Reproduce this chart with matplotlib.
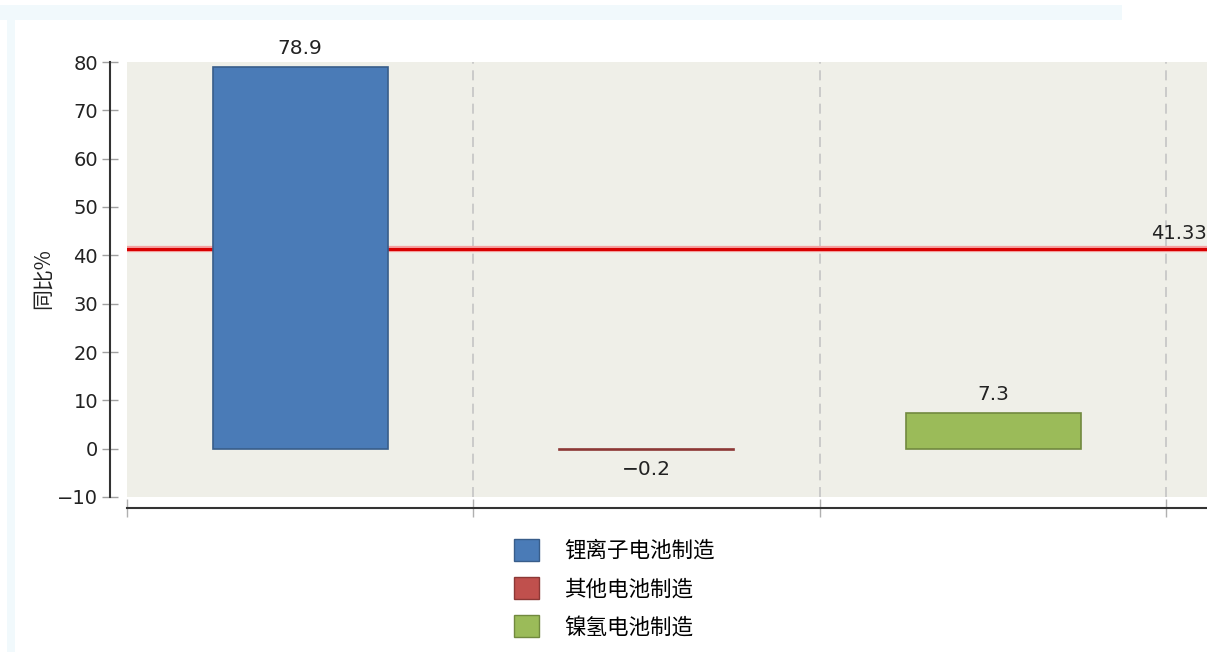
import matplotlib
matplotlib.use("Agg")
import matplotlib.pyplot as plt
from matplotlib.patches import Patch, Rectangle
import numpy as np

categories = ["锂离子电池制造", "其他电池制造", "镍氢电池制造"]
values = [78.9, -0.2, 7.3]
mean_value = 41.33
yticks = [-10, 0, 10, 20, 30, 40, 50, 60, 70, 80]
ylabel = "同比%"

face_colors = ["#4A7BB7", "#C0504D", "#9BBB59"]
edge_colors = ["#385D8A", "#8C3836", "#71893F"]

plt.rcParams['font.family'] = ['Noto Sans CJK SC', 'DejaVu Sans']

W, H = 1207, 652
fig = plt.figure(figsize=(W / 100, H / 100), dpi=100)
fig.patch.set_facecolor("white")
# light blue frame strips
fig.patches.append(Rectangle((0, 1 - 20 / H), 1122 / W, 15 / H, transform=fig.transFigure,
                             facecolor="#F1F9FC", edgecolor="none", zorder=0))
fig.patches.append(Rectangle((7 / W, 0), 8 / W, 1 - 20 / H, transform=fig.transFigure,
                             facecolor="#F1F9FC", edgecolor="none", zorder=0))

ax = fig.add_axes([127 / W, 1 - 497 / H, (W - 127) / W, (497 - 62) / H])
ax.set_facecolor("#EFEFE8")

n = len(categories)
x = np.arange(n) + 0.5
ax.bar(x, values, width=0.505, color=face_colors, edgecolor=edge_colors, linewidth=1.2, zorder=4)

ax.set_xlim(0, n + 0.117)
ax.set_ylim(-10, 80)
ax.set_yticks(yticks)
ax.set_xticks(np.arange(n + 1))
ax.set_xticklabels([])

for b in range(1, n + 1):
    ax.axvline(b, color="#C4C4C4", linewidth=1.2, linestyle=(0, (6, 4)), zorder=1)

# mean line (behind bars)
ax.axhline(mean_value, color="#F4A0A0", linewidth=4.5, zorder=2)
ax.axhline(mean_value, color="#D80000", linewidth=2.2, zorder=3)
ax.text(n + 0.117, mean_value + 1.2, f"{mean_value:.2f}", ha="right", va="bottom",
        fontsize=14, color="#222222", family="DejaVu Sans", zorder=6)

for xi, v in zip(x, values):
    if v >= 0:
        ax.text(xi, v + 2.0, f"{v}", ha="center", va="bottom", fontsize=14.5,
                color="#222222", family="DejaVu Sans")
    else:
        ax.text(xi, v - 2.2, f"{v}".replace("-", "\u2212"), ha="center", va="top", fontsize=14.5,
                color="#222222", family="DejaVu Sans")

for s in ["top", "right"]:
    ax.spines[s].set_visible(False)
ax.spines["left"].set_position(("outward", 12))
ax.spines["bottom"].set_position(("outward", 8))
for s in ["left", "bottom"]:
    ax.spines[s].set_color("#333333")
    ax.spines[s].set_linewidth(1.5)

ax.tick_params(axis="y", direction="inout", length=11.5, width=1, color="#A0A0A0",
               labelsize=14, labelcolor="#222222", pad=3)
ax.tick_params(axis="x", direction="inout", length=13, width=1, color="#B0B0B0")
for lab in ax.get_yticklabels():
    lab.set_family("DejaVu Sans")

fig.text(43 / W, 1 - 279 / H, ylabel, rotation=90, ha="center", va="center",
         fontsize=15, color="#222222")

handles = [Patch(facecolor=fc, edgecolor=ec, linewidth=1) for fc, ec in zip(face_colors, edge_colors)]
fig.legend(handles, categories, loc="upper left", bbox_to_anchor=(505 / W, 1 - 530 / H),
           frameon=False, fontsize=15.5, handlelength=1.2, handleheight=1.2,
           handletextpad=1.15, labelspacing=0.7, borderaxespad=0)

fig.savefig("out.png", dpi=100, facecolor=fig.get_facecolor())
